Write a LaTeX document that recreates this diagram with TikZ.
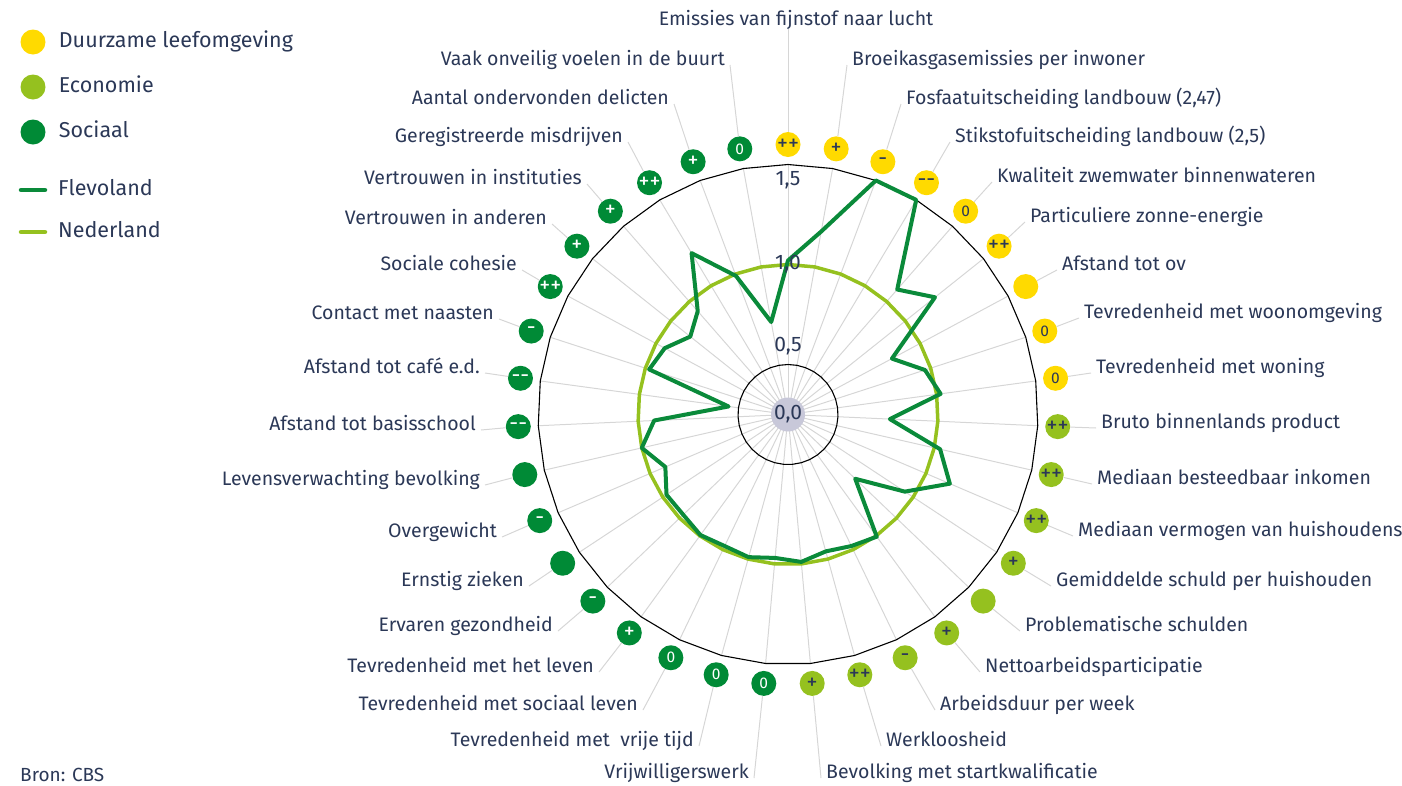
\documentclass[tikz,border=0pt]{standalone}
\usepackage{fontspec}
\setmainfont{Fira Sans}
\usepackage{tikz}
\usetikzlibrary{positioning}

\definecolor{duurzaam}{HTML}{FFDA00}
\definecolor{economie}{HTML}{95C11F}
\definecolor{sociaal}{HTML}{008A36}
\definecolor{flevo}{HTML}{0A8A3A}
\definecolor{navy}{HTML}{2B3857}
\definecolor{spaak}{HTML}{D6D6D6}
\definecolor{naaf}{HTML}{C8C8D9}

\newcommand{\tekn}[1]{{\fontsize{22}{22}\selectfont #1}}

\begin{document}
\begin{tikzpicture}[x=1pt, y=-1pt,
    every node/.style={text=navy, font=\fontsize{19.5}{22}\selectfont},
    bol/.style={circle, minimum size=25pt, inner sep=0pt, font=\fontsize{15.5}{17}\selectfont},
    lab/.style={inner xsep=5pt, inner ysep=0pt, text height=14pt, text depth=4pt},
    leg/.style={lab, font=\fontsize{21.5}{24}\selectfont},
    leider/.style={draw=spaak, line width=1pt},
    spaaklijn/.style={draw=spaak, line width=1pt},
    raster/.style={draw=black, line width=1.1pt},
    flevolijn/.style={draw=flevo, line width=4pt, line join=round},
    nllijn/.style={draw=economie, line width=3.5pt, line join=round},
    aslab/.style={font=\fontsize{21}{24}\selectfont}]

  \useasboundingbox (0,0) rectangle (1402,785);

  \begin{scope}[shift={(788,414.5)}]
  % spaken
  \foreach \i in {0,...,34}
    \draw[spaaklijn] (0,0) -- ({-90+\i*360/35}:250);

  % raster 0,5 en 1,5
  \draw[raster] (-90:50) \foreach \i in {1,...,34} {-- ({-90+\i*360/35}:50)} -- cycle;
  \draw[raster] (-90:250) \foreach \i in {1,...,34} {-- ({-90+\i*360/35}:250)} -- cycle;

  % Nederland = 1
  \draw[nllijn] (-90:150) \foreach \i in {1,...,34} {-- ({-90+\i*360/35}:150)} -- cycle;

  % Flevoland
  \foreach \v [count=\i] in {1.02,1.18,1.50,1.50,1.08,1.19,0.84,0.97,1.02,0.76,
      1.03,1.13,0.95,0.715,1.005,0.98,0.96,0.99,0.97,0.99,
      0.98,0.995,0.975,0.978,0.917,1.0,0.92,0.55,0.98,0.95,
      0.875,0.936,1.19,0.99,0.72}
    \coordinate (f\i) at ({-90+(\i-1)*360/35}:{200*\v-50});
  \draw[flevolijn] (f1) \foreach \i in {2,...,35} {-- (f\i)} -- cycle;

  % as
  \node[circle, fill=naaf, minimum size=34pt, inner sep=0pt] (hub) at (0,0) {};
  \node[aslab] (t00) at (0,0) {0,0};
  \node[aslab] (t05) at (0,-68) {0,5};
  \node[aslab] (t10) at (0,-150.5) {1,0};
  \node[aslab] (t15) at (0,-234) {1,5};

  % bollen
  \foreach \s/\c/\t [count=\i] in {\tekn{++}/duurzaam/navy, \tekn{+}/duurzaam/navy,
      \tekn{-}/duurzaam/navy, \tekn{-{}-}/duurzaam/navy, 0/duurzaam/navy,
      \tekn{++}/duurzaam/navy, {}/duurzaam/navy, 0/duurzaam/navy, 0/duurzaam/navy,
      \tekn{++}/economie/navy, \tekn{++}/economie/navy, \tekn{++}/economie/navy,
      \tekn{+}/economie/navy, {}/economie/navy, \tekn{+}/economie/navy,
      \tekn{-}/economie/navy, \tekn{++}/economie/navy, \tekn{+}/economie/navy,
      0/sociaal/white, 0/sociaal/white, 0/sociaal/white, \tekn{+}/sociaal/white,
      \tekn{-}/sociaal/white, {}/sociaal/white, \tekn{-}/sociaal/white, {}/sociaal/white,
      \tekn{-{}-}/sociaal/white, \tekn{-{}-}/sociaal/white, \tekn{-}/sociaal/white,
      \tekn{++}/sociaal/white, \tekn{+}/sociaal/white, \tekn{+}/sociaal/white,
      \tekn{++}/sociaal/white, \tekn{+}/sociaal/white, 0/sociaal/white}
    \node[bol, fill=\c, text=\t] (b\i) at ({-90+(\i-1)*360/35}:270) {\s};
  \end{scope}

  % labels
  \node[lab] (l1) at (796,20) {Emissies van fijnstof naar lucht};
  \draw[leider] (b1) -- (b1 |- l1.south);
  \foreach \x/\y/\a/\t [count=\i from 2] in {
      847/60/west/Broeikasgasemissies per inwoner,
      901/99/west/{Fosfaatuitscheiding landbouw (2,47)},
      950/137/west/{Stikstofuitscheiding landbouw (2,5)},
      992/177/west/Kwaliteit zwemwater binnenwateren,
      1025/217/west/Particuliere zonne-energie,
      1057/265/west/Afstand tot ov,
      1079/313/west/Tevredenheid met woonomgeving,
      1091/368/west/Tevredenheid met woning,
      1096/423/west/Bruto binnenlands product,
      1092/479/west/Mediaan besteedbaar inkomen,
      1073/531/west/Mediaan vermogen van huishoudens,
      1051/581/west/Gemiddelde schuld per huishouden,
      1020/626/west/Problematische schulden,
      980/667/west/Nettoarbeidsparticipatie,
      935/705/west/Arbeidsduur per week,
      881/741/west/Werkloosheid,
      821/773/west/Bevolking met startkwalificatie,
      754/773/east/Vrijwilligerswerk,
      699/741/east/Tevredenheid met~ vrije tijd,
      643/705/east/Tevredenheid met sociaal leven,
      599/667/east/Tevredenheid met het leven,
      558/626/east/Ervaren gezondheid,
      529/581/east/Ernstig zieken,
      502/532/east/Overgewicht,
      485/480/east/Levensverwachting bevolking,
      481/425/east/Afstand tot basisschool,
      485/368/east/Afstand tot café e.d.,
      499/314/east/Contact met naasten,
      522/265/east/Sociale cohesie,
      552/219/east/Vertrouwen in anderen,
      587/179/east/Vertrouwen in instituties,
      628/137/east/Geregistreerde misdrijven,
      674/99/east/Aantal ondervonden delicten,
      730/60/east/Vaak onveilig voelen in de buurt}
  {
    \node[lab, anchor=\a] (l\i) at (\x,\y) {\t};
    \draw[leider] (b\i) -- (l\i.base \a);
  }

  % legenda
  \node[bol, fill=duurzaam] (lg1) at (33,42) {};
  \node[leg, right=8pt of lg1] (lt1) {Duurzame leefomgeving};
  \node[bol, fill=economie] (lg2) at (33,87) {};
  \node[leg, right=8pt of lg2] (lt2) {Economie};
  \node[bol, fill=sociaal] (lg3) at (33,132) {};
  \node[leg, right=8pt of lg3] (lt3) {Sociaal};
  \coordinate (lf1) at (21,190);
  \coordinate (lf2) at (45,190);
  \draw[flevolijn, line width=4.5pt, line cap=round] (lf1) -- (lf2);
  \node[leg, right=8pt of lf2] (lt4) {Flevoland};
  \coordinate (ln1) at (21,232);
  \coordinate (ln2) at (45,232);
  \draw[nllijn, line width=4.5pt, line cap=round] (ln1) -- (ln2);
  \node[leg, right=8pt of ln2] (lt5) {Nederland};

  \node[lab, anchor=west, font=\fontsize{19}{21}\selectfont] (bron) at (15,776) {Bron: CBS};
\end{tikzpicture}
\end{document}
